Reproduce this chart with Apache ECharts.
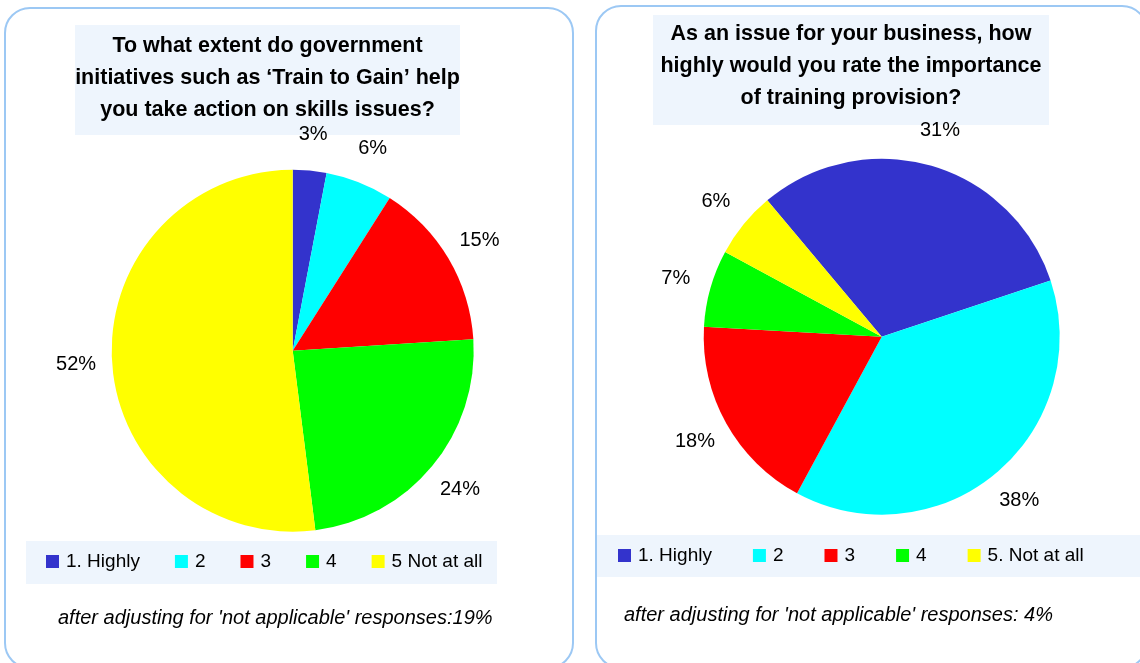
<!DOCTYPE html>
<html>
<head>
<meta charset="utf-8">
<script src="https://cdn.jsdelivr.net/npm/echarts@6/dist/echarts.min.js"></script>
<style>
  html, body { margin: 0; padding: 0; background: #ffffff; }
  #chart { width: 1140px; height: 663px; }
</style>
</head>
<body>
<div id="chart"></div>
<script>
// Survey responses (percent of businesses)
const leftCategories = ['1. Highly', '2', '3', '4', '5 Not at all'];
const leftValues = [3, 6, 15, 24, 52];
const rightCategories = ['1. Highly', '2', '3', '4', '5. Not at all'];
const rightValues = [31, 38, 18, 7, 6];
const sliceColors = ['#3333cc', '#00ffff', '#ff0000', '#00ff00', '#ffff00'];

const leftTitleLines = [
  'To what extent do government',
  'initiatives such as \u2018Train to Gain\u2019 help',
  'you take action on skills issues?'
];
const rightTitleLines = [
  'As an issue for your business, how',
  'highly would you rate the importance',
  'of training provision?'
];
const leftNote = "after adjusting for 'not applicable' responses:19%";
const rightNote = "after adjusting for 'not applicable' responses: 4%";

const FONT = "'Liberation Sans', Arial, Helvetica, sans-serif";
const PANEL_BG = '#eef5fd';
const BORDER = '#9cc8f4';

function toData(names, values) {
  return names.map((n, i) => ({
    name: n,
    value: values[i],
    itemStyle: { color: sliceColors[i] }
  }));
}

function questionTitle(lines, left, top, width) {
  return {
    text: lines.map(l => '{t|' + l + '}').join('\n'),
    left: left,
    top: top,
    padding: 0,
    textStyle: {
      rich: {
        t: {
          width: width,
          align: 'center',
          fontSize: 21.5,
          fontWeight: 'bold',
          lineHeight: 32,
          color: '#000',
          fontFamily: FONT
        }
      }
    }
  };
}

function noteTitle(text, left, top) {
  return {
    text: text,
    left: left,
    top: top,
    padding: 0,
    textStyle: {
      fontSize: 20,
      fontStyle: 'italic',
      fontWeight: 'normal',
      color: '#000',
      fontFamily: FONT
    }
  };
}

function slicePie(center, radius, startAngle, data) {
  return {
    type: 'pie',
    center: center,
    radius: radius,
    startAngle: startAngle,
    clockwise: true,
    avoidLabelOverlap: false,
    data: data,
    itemStyle: { borderWidth: 0 },
    label: { show: false },
    labelLine: { show: false },
    emphasis: { scale: false }
  };
}

// Transparent ring just outside each pie that carries the percentage labels
function labelRing(center, radius, startAngle, data) {
  return {
    type: 'pie',
    z: 7,
    center: center,
    radius: [radius + 20, radius + 46],
    startAngle: startAngle,
    clockwise: true,
    silent: true,
    avoidLabelOverlap: false,
    data: data.map(d => ({ name: d.name, value: d.value })),
    itemStyle: { color: 'transparent', borderWidth: 0 },
    label: {
      show: true,
      position: 'inside',
      formatter: '{c}%',
      fontSize: 20,
      color: '#000',
      fontFamily: FONT
    },
    labelLine: { show: false },
    emphasis: { disabled: true },
    tooltip: { show: false }
  };
}

function legendRow(names, left, top, gap) {
  return {
    data: names,
    left: left,
    top: top,
    orient: 'horizontal',
    padding: 0,
    icon: 'rect',
    itemWidth: 13,
    itemHeight: 13,
    itemGap: gap,
    textStyle: { fontSize: 19, color: '#000', fontFamily: FONT, padding: [0, 0, 0, 2] }
  };
}

const leftData = toData(leftCategories, leftValues);
const rightData = toData(rightCategories, rightValues);

const chart = echarts.init(document.getElementById('chart'), null, { renderer: 'canvas' });
chart.setOption({
  animation: false,
  backgroundColor: '#ffffff',
  textStyle: { fontFamily: FONT },
  graphic: [
    // panel frames
    {
      type: 'rect', z: 0,
      shape: { x: 5, y: 8, width: 568, height: 660, r: 25 },
      style: { fill: 'none', stroke: BORDER, lineWidth: 2 }
    },
    {
      type: 'rect', z: 0,
      shape: { x: 596, y: 6, width: 551, height: 662, r: 25 },
      style: { fill: 'none', stroke: BORDER, lineWidth: 2 }
    },
    // question boxes
    {
      type: 'rect', z: 1,
      shape: { x: 75, y: 25, width: 385, height: 110 },
      style: { fill: PANEL_BG }
    },
    {
      type: 'rect', z: 1,
      shape: { x: 653, y: 15, width: 396, height: 110 },
      style: { fill: PANEL_BG }
    },
    // legend strips
    {
      type: 'rect', z: 1,
      shape: { x: 26, y: 541, width: 471, height: 43 },
      style: { fill: PANEL_BG }
    },
    {
      type: 'rect', z: 1,
      shape: { x: 597, y: 535, width: 550, height: 42 },
      style: { fill: PANEL_BG }
    }
  ],
  title: [
    questionTitle(leftTitleLines, 75, 30, 385),
    questionTitle(rightTitleLines, 653, 18, 396),
    noteTitle(leftNote, 58, 608),
    noteTitle(rightNote, 624, 605)
  ],
  legend: [
    legendRow(leftCategories, 46, 552, 35),
    legendRow(rightCategories, 618, 546, 41)
  ],
  series: [
    slicePie([292.7, 350.7], 181, 90, leftData),
    slicePie([881.7, 336.7], 178, 130, rightData),
    labelRing([292.7, 350.7], 181, 90, leftData),
    labelRing([881.7, 336.7], 178, 130, rightData)
  ]
});
</script>
</body>
</html>
